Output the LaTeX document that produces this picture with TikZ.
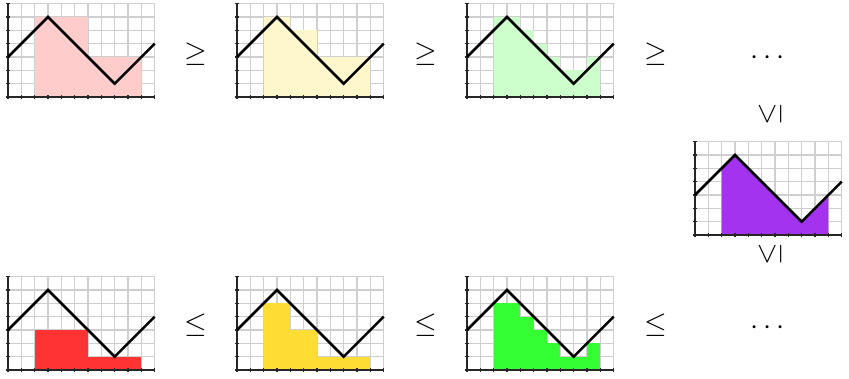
\documentclass[tikz,border=0pt]{standalone}
\usepackage{amsmath}

\definecolor{upperA}{HTML}{FFCCCC}
\definecolor{upperB}{HTML}{FFF7CC}
\definecolor{upperC}{HTML}{CCFFCC}
\definecolor{exactarea}{HTML}{A333EE}
\definecolor{lowerA}{HTML}{FF3333}
\definecolor{lowerB}{HTML}{FFDD33}
\definecolor{lowerC}{HTML}{33FF33}
\definecolor{gridgray}{HTML}{CFCFCF}

\tikzset{
  gridline/.style={gridgray, line width=0.9pt},
  axisline/.style={black!85, line width=1.3pt},
  curveline/.style={black, line width=2.2pt, line join=miter},
  relsign/.style={inner sep=0pt, font=\fontsize{26}{26}\selectfont}
}

% one panel: grid, filling (#3), axes, graph of f
\newcommand{\sumpanel}[3]{%
  \begin{scope}[shift={(#1,#2)}, x=0.4cm, y=0.4cm]
    \foreach \i in {1,...,11} \draw[gridline] (\i,0) -- (\i,7);
    \foreach \j in {1,...,7} \draw[gridline] (0,\j) -- (11,\j);
    #3
    \draw[axisline] (0,0) -- (11,0);
    \draw[axisline] (0,0) -- (0,7);
    \foreach \i in {0,...,11} \draw[axisline] (\i,-0.18) -- (\i,0.18);
    \foreach \j in {0,...,7} \draw[axisline] (-0.18,\j) -- (0.18,\j);
    \draw[curveline] (0,3) -- (3,6) -- (8,1) -- (11,4);
  \end{scope}}

\begin{document}
\begin{tikzpicture}
  \useasboundingbox (0,0) rectangle (25.47,11.34);

  % Upper sums
  \sumpanel{0.24}{8.43}{%
    \foreach \a/\b/\h in {2/6/6, 6/10/3}
      \fill[upperA] (\a,0) rectangle (\b,\h);}
  \sumpanel{7.11}{8.43}{%
    \foreach \a/\b/\h in {2/4/6, 4/6/5, 6/8/3, 8/10/3}
      \fill[upperB] (\a,0) rectangle (\b,\h);}
  \sumpanel{14.01}{8.43}{%
    \foreach \a/\h in {2/6, 3/6, 4/5, 5/4, 6/3, 7/2, 8/2, 9/3}
      \fill[upperC] (\a,0) rectangle (\a+1,\h);}

  % Exact area
  \sumpanel{20.85}{4.29}{%
    \fill[exactarea] (2,0) -- (2,5) -- (3,6) -- (8,1) -- (10,3) -- (10,0) -- cycle;}

  % Lower sums
  \sumpanel{0.24}{0.24}{%
    \foreach \a/\b/\h in {2/6/3, 6/10/1}
      \fill[lowerA] (\a,0) rectangle (\b,\h);}
  \sumpanel{7.11}{0.24}{%
    \foreach \a/\b/\h in {2/4/5, 4/6/3, 6/8/1, 8/10/1}
      \fill[lowerB] (\a,0) rectangle (\b,\h);}
  \sumpanel{14.01}{0.24}{%
    \foreach \a/\h in {2/5, 3/5, 4/4, 5/3, 6/2, 7/1, 8/1, 9/2}
      \fill[lowerC] (\a,0) rectangle (\a+1,\h);}

  % Relations
  \node[relsign] (geqA) at (5.88,9.72) {$\geq$};
  \node[relsign] (geqB) at (12.78,9.72) {$\geq$};
  \node[relsign] (geqC) at (19.68,9.72) {$\geq$};
  \node[relsign] (dotsup) at (23.1,9.6) {$\cdots$};
  \node[relsign, rotate=90] (vleqA) at (23.1,7.92) {$\leq$};
  \node[relsign, rotate=90] (vleqB) at (23.1,3.72) {$\leq$};
  \node[relsign] (leqA) at (5.88,1.59) {$\leq$};
  \node[relsign] (leqB) at (12.78,1.59) {$\leq$};
  \node[relsign] (leqC) at (19.68,1.59) {$\leq$};
  \node[relsign] (dotslow) at (23.1,1.5) {$\cdots$};
\end{tikzpicture}
\end{document}
